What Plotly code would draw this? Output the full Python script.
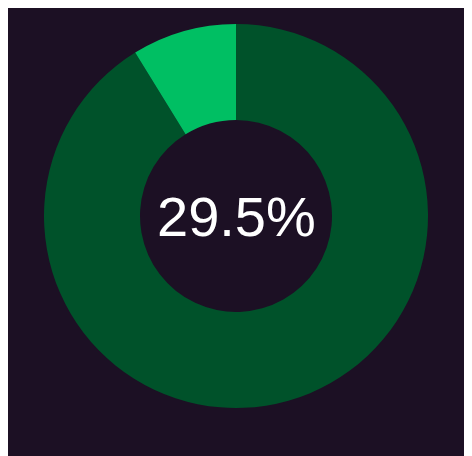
import plotly.graph_objects as go

labels = ["Rest", "Highlight"]
values = [91.2, 8.8]
center_text = "29.5%"

fig = go.Figure(go.Pie(
    labels=labels, values=values, hole=0.5, sort=False,
    direction="clockwise", rotation=0,
    marker=dict(colors=["#00522a", "#00bf63"], line=dict(width=0)),
    textinfo="none", hoverinfo="none", showlegend=False,
))
fig.add_annotation(text=center_text, x=0.5, y=0.5, xref="paper", yref="paper",
                   showarrow=False, font=dict(size=56, color="white", family="Liberation Sans"))
fig.update_layout(
    width=472, height=456,
    paper_bgcolor="#1c1024", plot_bgcolor="#1c1024",
    margin=dict(l=36, r=52, t=16, b=56),
)
fig.write_html("out.html", config={"displayModeBar": False})
